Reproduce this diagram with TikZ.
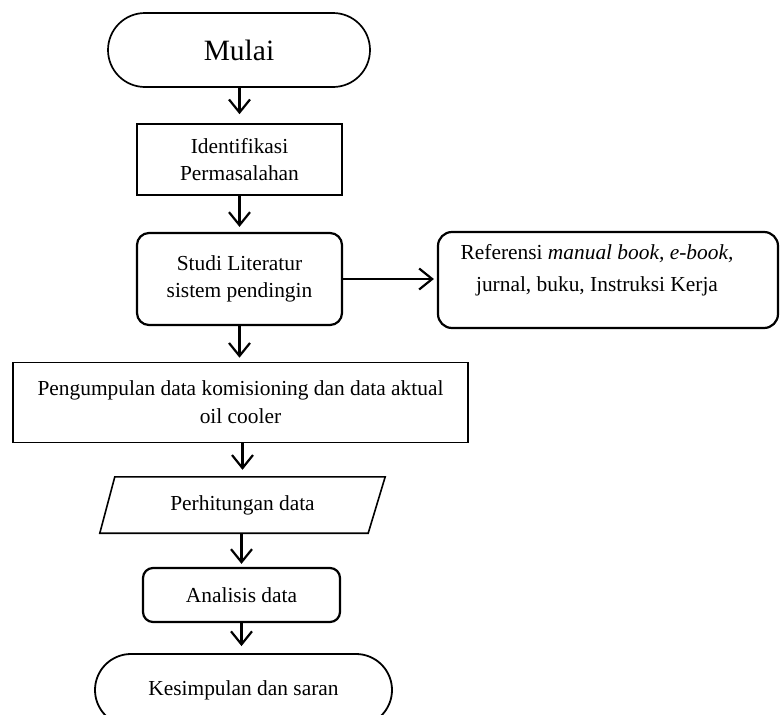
\documentclass[tikz,border=0pt]{standalone}
\usepackage{fontspec}
\setmainfont{Liberation Serif}
\usetikzlibrary{arrows.meta,calc}
\begin{document}
\begin{tikzpicture}[x=1pt,y=-1pt,
  txt/.style={align=center, inner sep=0pt, font=\fontsize{21.4}{26.5}\selectfont},
  box/.style={txt, draw, line width=1.6pt},
  rbox/.style={box, rounded corners=12pt, line width=2.2pt},
  term/.style={box, line width=1.7pt},
  arr/.style={-{Straight Barb[length=13pt,width=21pt]}, line width=2.2pt}]
\useasboundingbox (0,0) rectangle (780,715);
% nodes
\node[term, minimum width=262pt, minimum height=74pt, rounded corners=37pt,
  font=\fontsize{29.5}{32}\selectfont] (mulai) at (239,50) {Mulai};
\node[box, minimum width=205pt, minimum height=71pt] (ident) at (239.5,159.5)
  {Identifikasi\\Permasalahan};
\node[rbox, minimum width=205pt, minimum height=92pt] (studi) at (239.5,279)
  {Studi Literatur\\sistem pendingin};
\node[rbox, minimum width=340pt, minimum height=96pt, rounded corners=14pt] (ref) at (608,280) {};
\node[txt] (reftext) at (597,270)
  {Referensi \textit{manual book, e-book,}\\[6pt]jurnal, buku, Instruksi Kerja};
\node[box, minimum width=455pt, minimum height=80pt] (peng) at (240.5,402.5)
  {Pengumpulan data komisioning dan data aktual\\[1.5pt]oil cooler};
\node[txt, minimum width=285pt, minimum height=56pt] (perh) at (242.5,505) {Perhitungan data};
\draw[line width=1.6pt] ($(perh.north west)+(15,0)$) -- (perh.north east)
  -- ($(perh.south east)-(17,0)$) -- (perh.south west) -- cycle;
\node[rbox, minimum width=197pt, minimum height=54pt, rounded corners=10pt] (anal) at (241.5,595)
  {Analisis data};
\node[term, minimum width=297pt, minimum height=72pt, rounded corners=36pt, line width=1.8pt] (kes)
  at (243.5,690) {Kesimpulan dan saran};
% connectors
\draw[arr, shorten >=9pt] (ident.north |- mulai.south) -- (ident.north);
\draw[arr, shorten >=5pt] (studi.north |- ident.south) -- (studi.north);
\draw[arr, shorten >=3pt] (studi.east) -- (studi.east -| ref.west);
\draw[arr, shorten >=4pt] (studi.south) -- (studi.south |- peng.north);
\draw[arr, shorten >=7pt] (perh.north |- peng.south) -- (perh.north);
\draw[arr, shorten >=3pt] (anal.north |- perh.south) -- (anal.north);
\draw[arr, shorten >=7pt] (anal.south) -- (anal.south |- kes.north);
\end{tikzpicture}
\end{document}
